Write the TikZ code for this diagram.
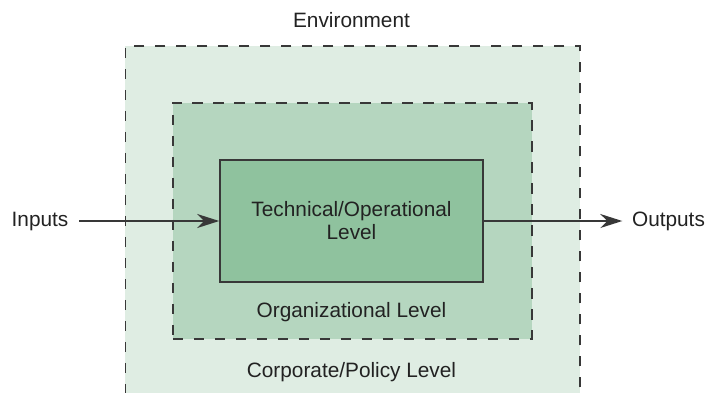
\documentclass[tikz,border=0pt]{standalone}
\usepackage{fontspec}
\setmainfont{Liberation Sans}
\usetikzlibrary{arrows.meta,positioning}
\definecolor{envgreen}{HTML}{DFEDE3}
\definecolor{orggreen}{HTML}{B5D6BF}
\definecolor{techgreen}{HTML}{8FC29E}
\definecolor{edgegray}{HTML}{383838}
\definecolor{textgray}{HTML}{222222}
\tikzset{every picture/.append style={line width=1.6pt,x=1pt,y=-1pt}}

\begin{document}
\begin{tikzpicture}[font=\fontsize{20.8pt}{23pt}\selectfont,text=textgray]
      \tikzstyle{layer}=[draw=edgegray,dash pattern=on 10.5pt off 10.5pt,inner sep=0pt,anchor=north west]
      \tikzstyle{core}=[draw=edgegray,fill=techgreen,minimum width=263pt,minimum height=122pt,align=center]
      \tikzstyle{flow}=[-{Stealth[length=22pt,width=14pt,inset=7pt]},draw=edgegray]
      \useasboundingbox (0,0) rectangle (709,392);
      \clip (0,0) rectangle (709,392);
      % nested levels
      \node[layer,fill=envgreen,minimum width=454.5pt,minimum height=370pt] at (124.5,45) (corp) {};
      \node[layer,fill=orggreen,minimum width=359pt,minimum height=236pt] at (172,102) (org) {};
      \node[core] at (351.5,221) (tech) {Technical/Operational\\Level};
      % labels
      \node at (351.5,20) (env) {Environment};
      \node at (351.5,312) (orglabel) {Organizational Level};
      \node at (351.5,372) (corplabel) {Corporate/Policy Level};
      \node[inner sep=0pt] at (40,221) (in) {Inputs};
      \node[inner sep=0pt] at (668.5,221) (out) {Outputs};
      \draw[flow,shorten <=10pt] (in) -- (tech);
      \draw[flow,shorten >=9pt] (tech) -- (out);
    \end{tikzpicture}
\end{document}
